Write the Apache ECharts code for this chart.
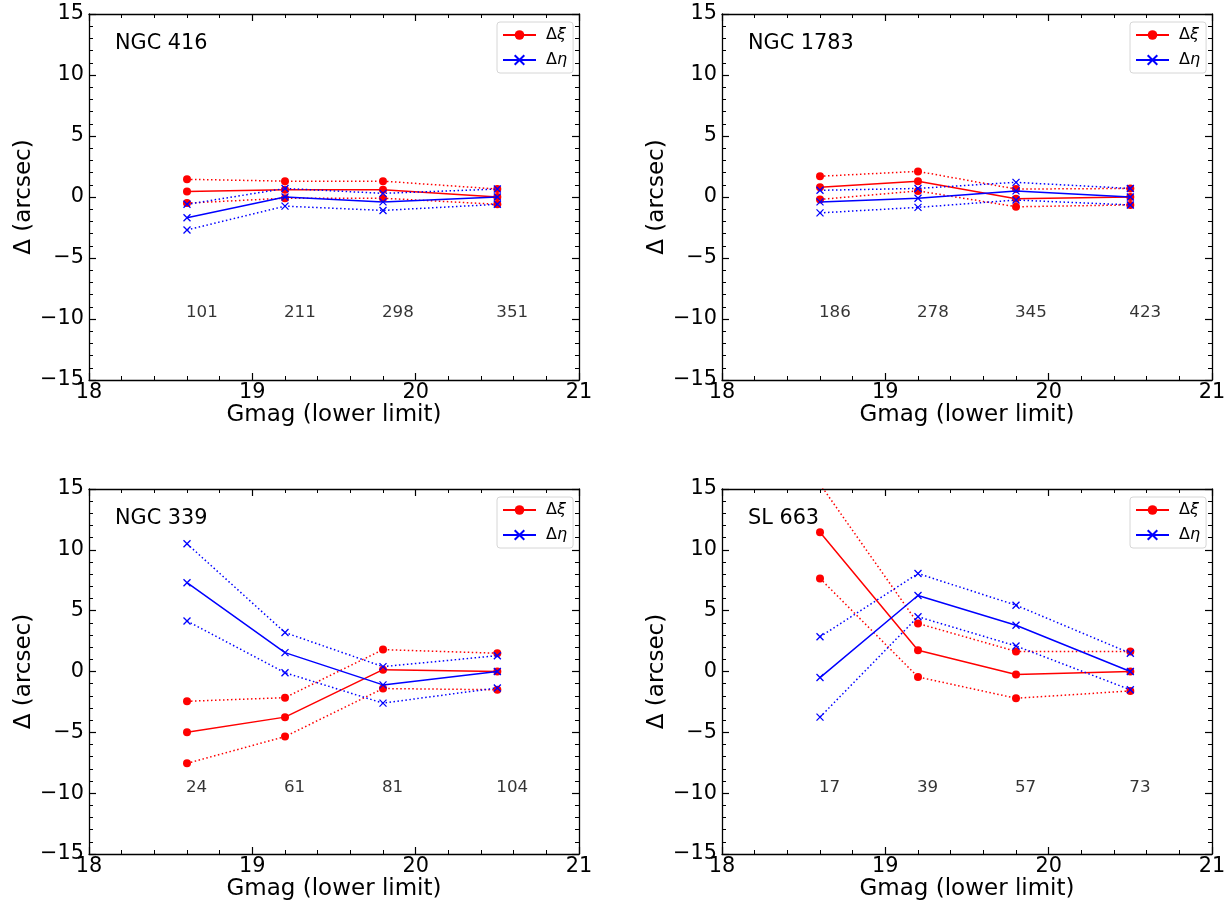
<!DOCTYPE html>
<html>
<head>
<meta charset="utf-8">
<script src="https://cdn.jsdelivr.net/npm/echarts@6/dist/echarts.min.js"></script>
<style>
html,body{margin:0;padding:0;background:#fff;}
#chart{width:1232px;height:906px;}
</style>
</head>
<body>
<div id="chart"></div>
<script>
// ---- data ----
const xValues = [18.6, 19.2, 19.8, 20.5];
const panelNames = ['NGC 416', 'NGC 1783', 'NGC 339', 'SL 663'];
const xTicks = [18, 19, 20, 21];
const yTicks = [-15, -10, -5, 0, 5, 10, 15];

// NGC 416
const ngc416Xi    = [0.45, 0.6, 0.6, 0.0];
const ngc416XiHi  = [1.45, 1.3, 1.3, 0.65];
const ngc416XiLo  = [-0.5, -0.1, -0.1, -0.6];
const ngc416Eta   = [-1.7, 0.0, -0.4, 0.0];
const ngc416EtaHi = [-0.6, 0.7, 0.3, 0.65];
const ngc416EtaLo = [-2.7, -0.75, -1.1, -0.6];
const ngc416N     = [101, 211, 298, 351];

// NGC 1783
const ngc1783Xi    = [0.8, 1.3, -0.15, 0.0];
const ngc1783XiHi  = [1.7, 2.1, 0.65, 0.7];
const ngc1783XiLo  = [-0.2, 0.5, -0.8, -0.65];
const ngc1783Eta   = [-0.4, -0.1, 0.5, 0.0];
const ngc1783EtaHi = [0.55, 0.7, 1.2, 0.7];
const ngc1783EtaLo = [-1.3, -0.85, -0.25, -0.65];
const ngc1783N     = [186, 278, 345, 423];

// NGC 339
const ngc339Xi    = [-5.0, -3.75, 0.15, 0.0];
const ngc339XiHi  = [-2.45, -2.15, 1.8, 1.5];
const ngc339XiLo  = [-7.55, -5.35, -1.4, -1.5];
const ngc339Eta   = [7.3, 1.55, -1.1, 0.0];
const ngc339EtaHi = [10.5, 3.2, 0.4, 1.3];
const ngc339EtaLo = [4.15, -0.1, -2.6, -1.35];
const ngc339N     = [24, 61, 81, 104];

// SL 663
const sl663Xi    = [11.45, 1.75, -0.25, 0.0];
const sl663XiHi  = [15.4, 3.95, 1.65, 1.65];
const sl663XiLo  = [7.65, -0.45, -2.2, -1.6];
const sl663Eta   = [-0.5, 6.25, 3.8, 0.0];
const sl663EtaHi = [2.85, 8.05, 5.45, 1.5];
const sl663EtaLo = [-3.75, 4.5, 2.1, -1.5];
const sl663N     = [17, 39, 57, 73];

const panels = [
  {xi: ngc416Xi, xiHi: ngc416XiHi, xiLo: ngc416XiLo, eta: ngc416Eta, etaHi: ngc416EtaHi, etaLo: ngc416EtaLo, n: ngc416N},
  {xi: ngc1783Xi, xiHi: ngc1783XiHi, xiLo: ngc1783XiLo, eta: ngc1783Eta, etaHi: ngc1783EtaHi, etaLo: ngc1783EtaLo, n: ngc1783N},
  {xi: ngc339Xi, xiHi: ngc339XiHi, xiLo: ngc339XiLo, eta: ngc339Eta, etaHi: ngc339EtaHi, etaLo: ngc339EtaLo, n: ngc339N},
  {xi: sl663Xi, xiHi: sl663XiHi, xiLo: sl663XiLo, eta: sl663Eta, etaHi: sl663EtaHi, etaLo: sl663EtaLo, n: sl663N}
];

// ---- layout ----
const FONT = 'DejaVu Sans';
const RED = '#ff0000', BLUE = '#0000ff';
const CROSS = 'path://M0,0L10,10M10,0L0,10';
const grids = [
  {left: 89, top: 14, width: 490, height: 366},
  {left: 722, top: 14, width: 490, height: 366},
  {left: 89, top: 489, width: 490, height: 365},
  {left: 722, top: 489, width: 490, height: 365}
];

const fmtNum = v => (v < 0 ? '\u2212' + Math.abs(v) : String(v));

const xAxes = [], yAxes = [], series = [], legends = [], titles = [];

grids.forEach((g, i) => {
  const common = {
    axisLine: {show: true, onZero: false, lineStyle: {color: '#000', width: 1.3}},
    axisTick: {show: true, inside: true, length: 7, lineStyle: {color: '#000', width: 1.2}},
    minorTick: {show: true, splitNumber: 5, length: 4, lineStyle: {color: '#000', width: 1}},
    splitLine: {show: false},
    minorSplitLine: {show: false}
  };
  xAxes.push(Object.assign({}, common, {
    type: 'value', gridIndex: i, position: 'bottom', min: xTicks[0], max: xTicks[xTicks.length - 1], interval: 1,
    name: 'Gmag (lower limit)', nameLocation: 'middle', nameGap: 24,
    nameTextStyle: {fontFamily: FONT, fontSize: 23, color: '#000'},
    axisLabel: {show: true, margin: 2, fontFamily: FONT, fontSize: 20.8, color: '#000', formatter: fmtNum}
  }));
  xAxes.push(Object.assign({}, common, {
    type: 'value', gridIndex: i, position: 'top', min: xTicks[0], max: xTicks[xTicks.length - 1], interval: 1,
    axisLabel: {show: false}
  }));
  yAxes.push(Object.assign({}, common, {
    type: 'value', gridIndex: i, position: 'left', min: yTicks[0], max: yTicks[yTicks.length - 1], interval: 5,
    name: '\u0394 (arcsec)', nameLocation: 'middle', nameGap: 53,
    nameTextStyle: {fontFamily: FONT, fontSize: 23, color: '#000'},
    axisLabel: {show: true, margin: 5, fontFamily: FONT, fontSize: 20.8, color: '#000', formatter: fmtNum}
  }));
  yAxes.push(Object.assign({}, common, {
    type: 'value', gridIndex: i, position: 'right', min: yTicks[0], max: yTicks[yTicks.length - 1], interval: 5,
    axisLabel: {show: false}
  }));

  const p = panels[i];
  const pts = arr => xValues.map((x, k) => [x, arr[k]]);
  const base = {type: 'line', xAxisIndex: 2 * i, yAxisIndex: 2 * i, clip: true, animation: false, silent: true};
  const redSym = {symbol: 'circle', symbolSize: 8, itemStyle: {color: RED}};
  const blueSym = {symbol: CROSS, symbolSize: 7, itemStyle: {color: 'none', borderColor: BLUE, borderWidth: 1.3}};
  series.push(Object.assign({}, base, redSym, {name: '\u0394\u03be', data: pts(p.xi), lineStyle: {color: RED, width: 1.5}, z: 3}));
  series.push(Object.assign({}, base, redSym, {name: 'xiHi' + i, data: pts(p.xiHi), lineStyle: {color: RED, width: 1.5, type: [1.5, 2.5]}, z: 3}));
  series.push(Object.assign({}, base, redSym, {name: 'xiLo' + i, data: pts(p.xiLo), lineStyle: {color: RED, width: 1.5, type: [1.5, 2.5]}, z: 3}));
  series.push(Object.assign({}, base, blueSym, {name: '\u0394\u03b7', data: pts(p.eta), lineStyle: {color: BLUE, width: 1.5}, z: 4}));
  series.push(Object.assign({}, base, blueSym, {name: 'etaHi' + i, data: pts(p.etaHi), lineStyle: {color: BLUE, width: 1.5, type: [1.5, 2.5]}, z: 4}));
  series.push(Object.assign({}, base, blueSym, {name: 'etaLo' + i, data: pts(p.etaLo), lineStyle: {color: BLUE, width: 1.5, type: [1.5, 2.5]}, z: 4}));
  // counts
  series.push({
    type: 'scatter', xAxisIndex: 2 * i, yAxisIndex: 2 * i, symbolSize: 0, silent: true, animation: false,
    data: xValues.map((x, k) => [x, -10, p.n[k]]),
    label: {show: true, position: [0, 0], align: 'left', verticalAlign: 'middle', offset: [-1, -6],
      formatter: q => String(q.value[2]), fontFamily: FONT, fontSize: 16.7, color: '#000'}
  });

  legends.push({
    orient: 'vertical', left: g.left + g.width - 82, top: g.top + 8,
    data: ['\u0394\u03be', '\u0394\u03b7'],
    itemWidth: 33, itemHeight: 12, itemGap: 9,
    padding: [5, 6, 5, 5],
    backgroundColor: '#fff', borderColor: '#d6d6d6', borderWidth: 1, borderRadius: 3,
    selectedMode: false,
    formatter: name => '{d|\u0394}{i|' + name.slice(1) + '}',
    textStyle: {fontFamily: FONT, fontSize: 16, color: '#000',
      rich: {d: {fontFamily: FONT, fontSize: 16, padding: [0, 0, 0, 5]}, i: {fontFamily: FONT, fontSize: 16, fontStyle: 'italic'}}}
  });

  titles.push({
    text: panelNames[i], left: g.left + 21, top: g.top + 14,
    textStyle: {fontFamily: FONT, fontSize: 20.8, fontWeight: 'normal', color: '#000'}
  });
});

const chart = echarts.init(document.getElementById('chart'), null, {renderer: 'canvas'});
chart.setOption({
  backgroundColor: '#fff',
  animation: false,
  title: titles,
  grid: grids,
  xAxis: xAxes,
  yAxis: yAxes,
  legend: legends,
  series: series
});
</script>
</body>
</html>
